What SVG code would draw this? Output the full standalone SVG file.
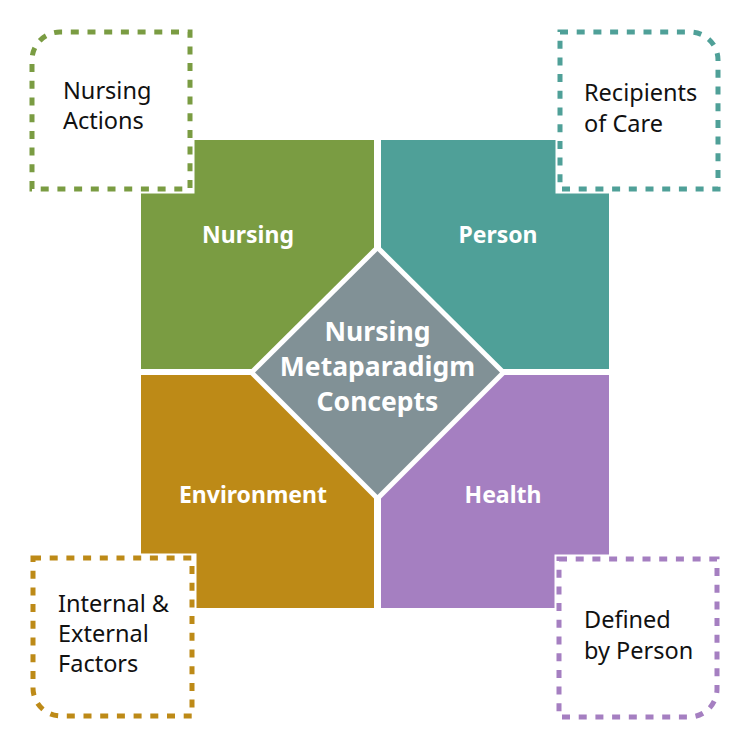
<svg xmlns="http://www.w3.org/2000/svg" width="750" height="748" viewBox="0 0 750 748">
<style>
.q{stroke:none}
.ql{font-family:"Noto Sans","Open Sans",sans-serif;font-weight:bold;font-size:23px;fill:#fff;text-anchor:middle}
.ct{font-family:"Noto Sans","Open Sans",sans-serif;font-weight:bold;font-size:26.5px;fill:#fff;text-anchor:middle}
.halo{fill:#fff;stroke:#fff;stroke-width:9}
.dash{fill:none;stroke-width:5;stroke-dasharray:8 8.7}
.bt{font-family:"Noto Sans","Open Sans",sans-serif;font-size:23.5px;fill:#111}
</style>
<rect width="750" height="748" fill="#fff"/>
<g id="quadrants">
<g id="nursing"><rect class="q" x="141" y="140" width="233" height="229" fill="#7a9c42"/><text class="ql" x="248" y="243">Nursing</text></g>
<g id="person"><rect class="q" x="381" y="140" width="228" height="229" fill="#4fa098"/><text class="ql" x="498" y="243">Person</text></g>
<g id="environment"><rect class="q" x="141" y="375" width="233" height="233" fill="#bd8a17"/><text class="ql" x="253" y="503">Environment</text></g>
<g id="health"><rect class="q" x="381" y="375" width="228" height="233" fill="#a57fc1"/><text class="ql" x="503" y="503">Health</text></g>
</g>
<g id="center">
<polygon points="377.5,244 507,372.5 377.5,502 248,372.5" fill="#fff"/>
<polygon points="377.5,251 500,372.5 377.5,495 255,372.5" fill="#819196"/>
<text class="ct" x="377.5" y="341">Nursing</text>
<text class="ct" x="377.5" y="376">Metaparadigm</text>
<text class="ct" x="377.5" y="411">Concepts</text>
</g>
<g id="connectors"/>
<g id="box-nursing-actions">
<path class="halo" d="M32,189 V60 A28,28 0 0 1 60,32 H190 V189 Z"/>
<path class="dash" stroke="#7a9c42" d="M32,189 V60 A28,28 0 0 1 60,32 H190 V189 Z"/>
<text class="bt" x="63" y="99">Nursing</text>
<text class="bt" x="63" y="129">Actions</text>
</g>
<g id="box-recipients">
<path class="halo" d="M560,32 H690 A28,28 0 0 1 718,60 V189 H560 Z"/>
<path class="dash" stroke="#4fa098" d="M560,32 H690 A28,28 0 0 1 718,60 V189 H560 Z"/>
<text class="bt" x="584" y="101">Recipients</text>
<text class="bt" x="584" y="132">of Care</text>
</g>
<g id="box-factors">
<path class="halo" d="M33,558 H192 V716 H61 A28,28 0 0 1 33,688 Z"/>
<path class="dash" stroke="#bd8a17" d="M33,558 H192 V716 H61 A28,28 0 0 1 33,688 Z"/>
<text class="bt" x="58" y="612">Internal &amp;</text>
<text class="bt" x="58" y="642">External</text>
<text class="bt" x="58" y="672">Factors</text>
</g>
<g id="box-defined">
<path class="halo" d="M559,559 H717 V689 A28,28 0 0 1 689,717 H559 Z"/>
<path class="dash" stroke="#a57fc1" d="M559,559 H717 V689 A28,28 0 0 1 689,717 H559 Z"/>
<text class="bt" x="584" y="628">Defined</text>
<text class="bt" x="584" y="659">by Person</text>
</g>
</svg>
